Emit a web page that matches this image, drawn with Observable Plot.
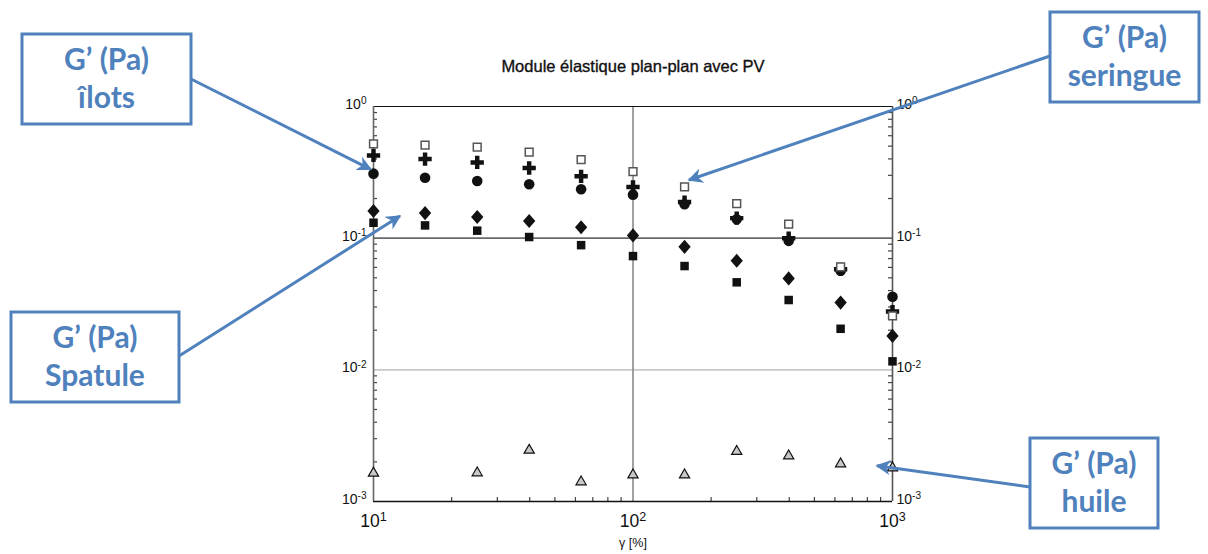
<!DOCTYPE html>
<html><head><meta charset="utf-8">
<script src="https://cdn.jsdelivr.net/npm/d3@7"></script>
<script src="https://cdn.jsdelivr.net/npm/@observablehq/plot@0.6"></script>
<style>body{margin:0;background:#fff;} svg{display:block}</style>
</head><body><div id="chart"></div>
<script>
// ---- data ----
const chartTitle = "Module élastique plan-plan avec PV";
const xLabel = "γ [%]";
const strain = [10, 15.8, 25.1, 39.8, 63.1, 100, 158, 251, 398, 631, 1000];
const seringue = [0.521, 0.509, 0.492, 0.451, 0.395, 0.320, 0.245, 0.183, 0.128, 0.0606, 0.0257];
const croix    = [0.425, 0.399, 0.376, 0.341, 0.295, 0.245, 0.188, 0.142, 0.100, 0.058, 0.0277];
const ilots    = [0.309, 0.288, 0.272, 0.257, 0.235, 0.214, 0.181, 0.139, 0.0954, 0.0565, 0.0359];
const spatule  = [0.161, 0.155, 0.145, 0.135, 0.121, 0.105, 0.0859, 0.0673, 0.0495, 0.0324, 0.0181];
const carres   = [0.131, 0.125, 0.114, 0.102, 0.0885, 0.0731, 0.0614, 0.0462, 0.0339, 0.0205, 0.0116];
const huileStrain = [10, 25.1, 39.8, 63.1, 100, 158, 251, 398, 631, 1000];
const huile    = [0.00164, 0.00165, 0.00245, 0.00141, 0.00159, 0.00159, 0.00240, 0.00222, 0.00193, 0.00180];
const xTicks = [10, 100, 1000];
const xTickLabels = ["10¹", "10²", "10³"];
const yTicks = [1, 0.1, 0.01, 0.001];
const yTickLabels = ["10⁰", "10⁻¹", "10⁻²", "10⁻³"];
const annotationLabels = [["G’ (Pa)", "îlots"], ["G’ (Pa)", "Spatule"], ["G’ (Pa)", "seringue"], ["G’ (Pa)", "huile"]];
// arrow targets in data coordinates (strain, G')
const annotationTargets = [[9.8, 0.33], [12.7, 0.146], [165, 0.274], [875, 0.00185]];

// ---- layout ----
const W = 1208, H = 554;
const L = 373, R = 892, T = 106, B = 501;
const fw = R - L, fh = B - T;
const minorY = [];
for (const e of [-3, -2, -1]) for (let k = 2; k <= 9; k++) minorY.push(k * Math.pow(10, e));
const minorX = [];
for (const e of [1, 2]) for (let k = 2; k <= 9; k++) minorX.push(k * Math.pow(10, e));
const pts = (xs, ys) => xs.map((x, i) => ({x, y: ys[i]}));

// rounder, wider diamond like the reference markers
const wideDiamond = {
  draw(ctx, size) {
    const s = Math.sqrt(size), hh = s * 0.64, hw = s * 0.56;
    ctx.moveTo(0, -hh); ctx.lineTo(hw, 0); ctx.lineTo(0, hh); ctx.lineTo(-hw, 0); ctx.closePath();
  }
};

const chart = Plot.plot({
  width: W, height: H,
  marginLeft: L, marginRight: W - R, marginTop: T, marginBottom: H - B,
  style: {fontFamily: "'Liberation Sans', Arial, sans-serif", background: "white", color: "#111"},
  x: {type: "log", domain: [10, 1000], axis: null},
  y: {type: "log", domain: [0.001, 1], axis: null},
  marks: [
    Plot.ruleY([0.01], {stroke: "#c8c8c8", strokeWidth: 1.6}),
    Plot.ruleY([0.1], {stroke: "#6a6a6a", strokeWidth: 1.6}),
    Plot.ruleX([100], {stroke: "#8a8a8a", strokeWidth: 1.6}),
    Plot.tickY(minorY, {y: d => d, insetRight: fw - 4, stroke: "#444", strokeWidth: 1.2}),
    Plot.tickY(minorY, {y: d => d, insetLeft: fw - 4, stroke: "#444", strokeWidth: 1.2}),
    Plot.tickX(minorX, {x: d => d, insetTop: fh - 4, stroke: "#444", strokeWidth: 1.2}),
    Plot.ruleY([1], {stroke: "#111", strokeWidth: 1.2}),
    Plot.ruleY([0.001], {stroke: "#111", strokeWidth: 1.6}),
    Plot.ruleX([10], {stroke: "#666", strokeWidth: 1.6}),
    Plot.ruleX([1000], {stroke: "#555", strokeWidth: 1.6}),
    Plot.text(xTicks, {x: d => d, frameAnchor: "bottom", dy: 25, text: (d, i) => xTickLabels[i], fontSize: 17.5, fill: "#111", className: "sup"}),
    Plot.text(yTicks, {y: d => d, frameAnchor: "left", textAnchor: "end", dx: -7, dy: -2, text: (d, i) => yTickLabels[i], fontSize: 14, fill: "#111", className: "sup"}),
    Plot.text(yTicks, {y: d => d, frameAnchor: "right", textAnchor: "start", dx: 4, dy: -2, text: (d, i) => yTickLabels[i], fontSize: 14, fill: "#111", className: "sup"}),
    Plot.text([chartTitle], {frameAnchor: "top", dy: -46, fontSize: 16.5, fill: "#111", stroke: "#111", strokeWidth: 0.35}),
    Plot.text([xLabel], {frameAnchor: "bottom", dy: 45, fontSize: 12.5, fill: "#111"}),
    Plot.dot(pts(huileStrain, huile), {x: "x", y: "y", symbol: "triangle", r: 3.8, fill: "#c8c8c8", stroke: "#111", strokeWidth: 1.2}),
    Plot.dot(pts(strain, carres), {x: "x", y: "y", symbol: "square", r: 4.8, fill: "#111"}),
    Plot.dot(pts(strain, spatule), {x: "x", y: "y", symbol: wideDiamond, r: 6.2, fill: "#111"}),
    Plot.dot(pts(strain, ilots), {x: "x", y: "y", symbol: "circle", r: 5.3, fill: "#111"}),
    Plot.dot(pts(strain, croix), {x: "x", y: "y", symbol: "cross", r: 5.6, fill: "#111"}),
    Plot.dot(pts(strain, seringue), {x: "x", y: "y", symbol: "square", r: 4.4, fill: "white", stroke: "#555", strokeWidth: 1.5})
  ]
});
document.getElementById("chart").appendChild(chart);

// turn "10¹"-style labels into "10" + raised exponent tspan
const supMap = {"⁰": "0", "¹": "1", "²": "2", "³": "3", "⁻": "-"};
d3.select(chart).selectAll(".sup text").each(function () {
  const t = this.textContent;
  const base = t.slice(0, 2), exp = [...t.slice(2)].map(c => supMap[c] ?? c).join("");
  const el = d3.select(this);
  el.text(null);
  el.append("tspan").text(base);
  el.append("tspan").attr("dy", "-0.45em").attr("font-size", "0.72em").text(exp);
});

// ---- annotations (callout boxes with arrows) ----
const sx = chart.scale("x"), sy = chart.scale("y");
const blue = "#4F81BD";
const svg = d3.select(chart);
svg.append("defs").append("marker")
  .attr("id", "ah").attr("viewBox", "0 0 10 10").attr("refX", 9).attr("refY", 5)
  .attr("markerWidth", 5).attr("markerHeight", 5).attr("orient", "auto")
  .append("path").attr("d", "M0,0 L10,5 L0,10 L3,5 Z").attr("fill", blue);
const boxes = [
  {x: 22, y: 34, w: 169, h: 90, from: [191, 79]},
  {x: 11, y: 312, w: 168, h: 90, from: [179, 356]},
  {x: 1050, y: 12, w: 149, h: 90, from: [1050, 56]},
  {x: 1030, y: 438, w: 128, h: 90, from: [1030, 487]}
];
boxes.forEach((b, i) => {
  const g = svg.append("g");
  const [tx, ty] = annotationTargets[i];
  g.append("line").attr("x1", b.from[0]).attr("y1", b.from[1])
    .attr("x2", sx.apply(tx)).attr("y2", sy.apply(ty))
    .attr("stroke", blue).attr("stroke-width", 3).attr("marker-end", "url(#ah)");
  g.append("rect").attr("x", b.x).attr("y", b.y).attr("width", b.w).attr("height", b.h)
    .attr("fill", "white").attr("stroke", blue).attr("stroke-width", 3);
  annotationLabels[i].forEach((t, j) => {
    g.append("text").attr("x", b.x + b.w / 2).attr("y", b.y + 28 + j * 38)
      .attr("text-anchor", "middle").attr("dominant-baseline", "middle")
      .attr("font-family", "Lato, 'Open Sans', sans-serif").attr("font-weight", "bold")
      .attr("font-size", 30).attr("fill", blue).text(t);
  });
});
</script>
</body></html>
